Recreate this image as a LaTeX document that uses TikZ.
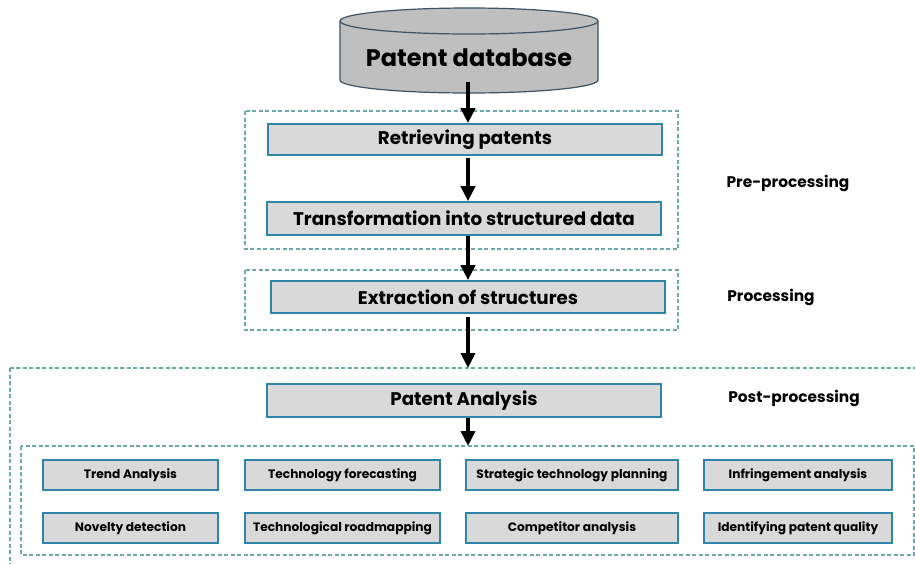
\documentclass[tikz,border=0pt]{standalone}
\usepackage{fontspec}
\setmainfont{Poppins}
\usetikzlibrary{arrows.meta}
\definecolor{boxfill}{HTML}{D9D9D9}
\definecolor{boxline}{HTML}{2F84AA}
\definecolor{dashcol}{HTML}{6AABA5}
\definecolor{cylfill}{HTML}{BFBFBF}
\definecolor{cylline}{HTML}{3F5364}
\tikzset{
  mainbox/.style={draw=boxline, fill=boxfill, line width=1.6pt, minimum width=394pt, inner sep=0pt, font=\fontsize{18.3}{20}\selectfont\bfseries},
  smallbox/.style={draw=boxline, fill=boxfill, line width=1.6pt, minimum height=30pt, inner sep=0pt, font=\fontsize{12.2}{14}\selectfont\bfseries},
  dashbox/.style={draw=dashcol, line width=1.1pt, dash pattern=on 4pt off 2.5pt},
  stagelabel/.style={font=\fontsize{15.4}{17}\selectfont\bfseries},
  flow/.style={line width=3.8pt, -{Triangle[length=15pt,width=14pt]}}
}
\begin{document}
\begin{tikzpicture}[x=1pt,y=-1pt]
\clip (0,0) rectangle (915,563);
\fill[white] (0,0) rectangle (915,563);
\coordinate (axis) at (468,0);
% dashed groups
\draw[dashbox] (245,111) rectangle (678,249);
\draw[dashbox] (245,270) rectangle (678,330);
\draw[dashbox] (10,368) rectangle (940,600);
\draw[dashbox] (21,446) rectangle (914,555);
\coordinate (posttop) at (468,368);
\coordinate (innertop) at (468,446);
% cylinder
\path[fill=cylfill] (340,21) -- (340,80) arc[start angle=180, end angle=360, x radius=129pt, y radius=13pt] -- (598,21) -- cycle;
\draw[cylline, line width=1.2pt] (340,21) -- (340,80) arc[start angle=180, end angle=360, x radius=129pt, y radius=13pt] -- (598,21);
\draw[cylline, fill=cylfill, line width=1.2pt] (469,21) ellipse[x radius=129pt, y radius=13pt];
\node[font=\fontsize{24}{26}\selectfont\bfseries, inner sep=0pt] (db) at (469,58) {Patent database};
\coordinate (dbout) at (468,82);
% main boxes
\node[mainbox, minimum height=31pt] (ret) at (465,139.5) {Retrieving patents};
\node[mainbox, minimum height=33pt] (trans) at (464,218.5) {Transformation into structured data};
\node[mainbox, minimum height=32pt] (extr) at (468,297) {Extraction of structures};
\node[mainbox, minimum height=33pt] (pa) at (464,400.5) {Patent Analysis};
% labels
\node[stagelabel] (l1) at (788,183) {Pre-processing};
\node[stagelabel] (l2) at (771,297) {Processing};
\node[stagelabel] (l3) at (794,398) {Post-processing};
% small boxes
\node[smallbox, minimum width=175pt] (s1) at (130.5,475) {Trend Analysis};
\node[smallbox, minimum width=195pt] (s2) at (342.5,475) {Technology forecasting};
\node[smallbox, minimum width=212pt] (s3) at (572,475) {Strategic technology planning};
\node[smallbox, minimum width=188pt] (s4) at (798,475) {Infringement analysis};
\node[smallbox, minimum width=175pt] (s5) at (130.5,528) {Novelty detection};
\node[smallbox, minimum width=195pt] (s6) at (342.5,528) {Technological roadmapping};
\node[smallbox, minimum width=212pt] (s7) at (572,528) {Competitor analysis};
\node[smallbox, minimum width=188pt] (s8) at (798,528) {Identifying patent quality};
% arrows
\draw[flow] (dbout) -- (ret.north -| axis);
\draw[flow] (ret.south -| axis) ++(0,2) -- (trans.north -| axis);
\draw[flow] (trans.south -| axis) -- (extr.north -| axis);
\draw[flow] (extr.south -| axis) ++(0,3) -- (posttop);
\draw[flow] (pa.south -| axis) -- (innertop);
\end{tikzpicture}
\end{document}
